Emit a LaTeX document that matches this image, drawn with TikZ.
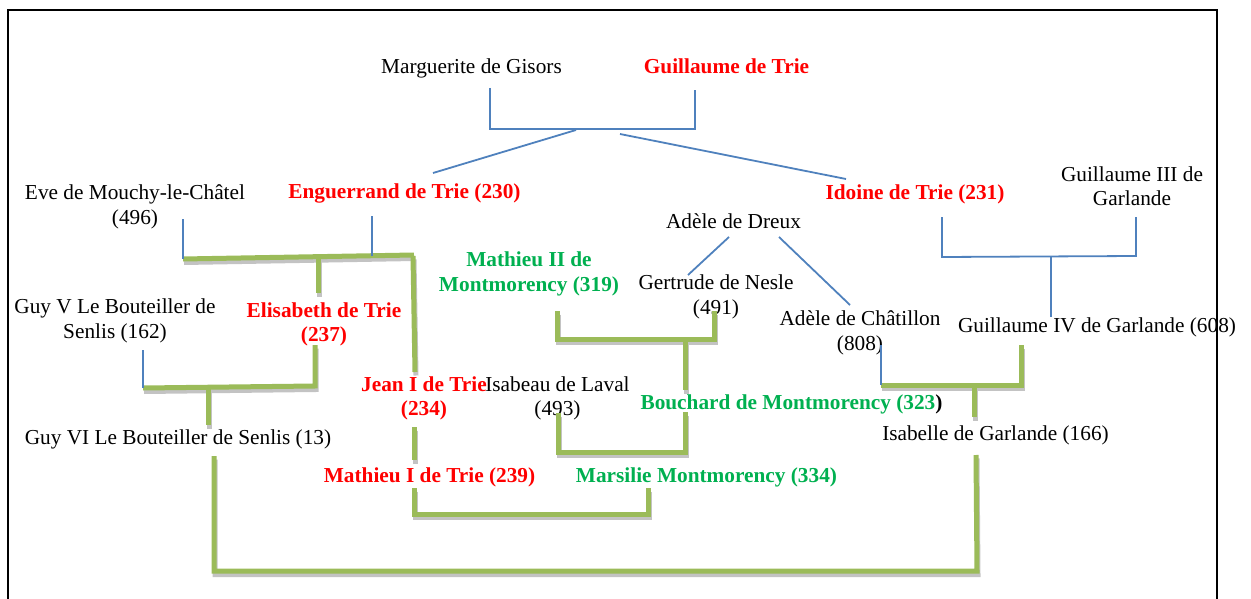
\documentclass[tikz,border=0pt]{standalone}
\usepackage{fontspec}
\setmainfont{Liberation Serif}
\definecolor{trred}{RGB}{255,0,0}
\definecolor{mogreen}{RGB}{0,176,80}
\definecolor{bline}{RGB}{79,129,189}
\definecolor{gline}{RGB}{155,187,89}
\definecolor{shgrey}{RGB}{195,195,195}
\tikzset{
  person/.style={font=\fontsize{21.3}{24.5}\selectfont, align=center, inner sep=0pt, text height=15pt, text depth=5pt},
  trie/.style={person, text=trred, font=\fontsize{21.3}{24.5}\selectfont\bfseries},
  mont/.style={person, text=mogreen, font=\fontsize{21.3}{24.5}\selectfont\bfseries},
  blueline/.style={draw=bline, line width=1.8pt},
  famline/.style={draw=gline, line width=5pt, line join=miter,
     preaction={draw=shgrey, line width=5pt, transform canvas={xshift=1pt, yshift=-3.5pt}}},
  frameline/.style={draw=black, line width=2.5pt}
}
\begin{document}
\begin{tikzpicture}[x=1pt, y=-1pt]
\useasboundingbox (0,0) rectangle (1251,599);
\draw[frameline] (8,605) -- (8,10) -- (1217,10) -- (1217,605);

% people
\node[person] (marg) at (471.5,69) {Marguerite de Gisors};
\node[trie] (gtrie) at (726.5,69) {Guillaume de Trie};
\node[person] (eve) at (135,219) {Eve de Mouchy-le-Châtel\\(496)};
\node[trie] (enguerrand) at (404.5,193) {Enguerrand de Trie (230)};
\node[trie] (idoine) at (915,195) {Idoine de Trie (231)};
\node[person] (g3) at (1132,200.5) {Guillaume III de\\Garlande};
\node[person] (adeledreux) at (733.5,224) {Adèle de Dreux};
\node[mont] (mathieu2) at (529,286) {Mathieu II de\\Montmorency (319)};
\node[person] (gertrude) at (716,309) {Gertrude de Nesle\\(491)};
\node[person] (chatillon) at (860,345) {Adèle de Châtillon\\(808)};
\node[person] (g4) at (1097,327) {Guillaume IV de Garlande (608)};
\node[person] (guy5) at (115,333) {Guy V Le Bouteiller de\\Senlis (162)};
\node[trie] (elisabeth) at (324,336.5) {Elisabeth de Trie\\(237)};
\node[trie] (jean) at (424,410.5) {Jean I de Trie\\(234)};
\node[person] (isabeau) at (557.5,410.5) {Isabeau de Laval\\(493)};
\node[mont] (bouchard) at (791.5,404) {Bouchard de Montmorency (323\textcolor{black}{)}};
\node[person] (guy6) at (178,439) {Guy VI Le Bouteiller de Senlis (13)};
\node[person] (isabelle) at (995.5,435) {Isabelle de Garlande (166)};
\node[trie] (mathieu1) at (429.5,477) {Mathieu I de Trie (239)};
\node[mont] (marsilie) at (706.5,477) {Marsilie Montmorency (334)};

% connector points
\coordinate (m1) at (490,88);  \coordinate (m2) at (490,129);
\coordinate (t1) at (695,90);  \coordinate (t2) at (695,129);
\coordinate (tA) at (576,130); \coordinate (eT) at (433,173);
\coordinate (tB) at (620,134); \coordinate (iT) at (846,179);
\coordinate (ev1) at (183,219); \coordinate (ev2) at (183,259);
\coordinate (en1) at (372,216); \coordinate (en2) at (372,256);
\coordinate (en3) at (414,255);
\coordinate (id1) at (942,217); \coordinate (id2) at (942,257);
\coordinate (g31) at (1136,217); \coordinate (g32) at (1136,256);
\coordinate (g4a) at (1051,257); \coordinate (g4b) at (1051,317);
\coordinate (ad1) at (729,237); \coordinate (ge1) at (688,275);
\coordinate (ad2) at (779,237); \coordinate (ch1) at (850,305);
\coordinate (ch2) at (881,345); \coordinate (ch3) at (881,385);
\coordinate (gv1) at (143,350); \coordinate (gv2) at (143,388);
\coordinate (el1) at (318,258); \coordinate (el2) at (318,293);
\coordinate (je1) at (413,256); \coordinate (je2) at (415,372);
\coordinate (el3) at (315,345); \coordinate (el4) at (315,386);
\coordinate (gy1) at (208,388); \coordinate (gy2) at (208,425);
\coordinate (ma1) at (414,427); \coordinate (ma2) at (414,460);
\coordinate (ma3) at (414,488); \coordinate (ma4) at (414,514);
\coordinate (mr1) at (648,488); \coordinate (mr2) at (648,514);
\coordinate (m21) at (557,311); \coordinate (m22) at (557,339);
\coordinate (gn1) at (714,311); \coordinate (gn2) at (714,339);
\coordinate (bo1) at (685,339); \coordinate (bo2) at (685,390);
\coordinate (is1) at (558,413); \coordinate (is2) at (558,452);
\coordinate (bo3) at (685,412); \coordinate (bo4) at (685,452);
\coordinate (g41) at (1021,345); \coordinate (g42) at (1021,385);
\coordinate (il1) at (974,385); \coordinate (il2) at (974,417);
\coordinate (gs1) at (214,456); \coordinate (gs2) at (214,571);
\coordinate (il3) at (976,455); \coordinate (il4) at (977,571);

% green family lines
\draw[famline] (ev2) -- (en3);
\draw[famline] (el1) -- (el2);
\draw[famline] (je1) -- (je2);
\draw[famline] (gv2) -- (el4) -- (el3);
\draw[famline] (gy1) -- (gy2);
\draw[famline] (ma1) -- (ma2);
\draw[famline] (ma3) -- (ma4) -- (mr2) -- (mr1);
\draw[famline] (m21) -- (m22) -- (gn2) -- (gn1);
\draw[famline] (bo1) -- (bo2);
\draw[famline] (is1) -- (is2) -- (bo4) -- (bo3);
\draw[famline] (ch3) -- (g42) -- (g41);
\draw[famline] (il1) -- (il2);
\draw[famline] (gs1) -- (gs2) -- (il4) -- (il3);

% blue lines
\draw[blueline] (m1) -- (m2) -- (t2) -- (t1);
\draw[blueline] (tA) -- (eT);
\draw[blueline] (tB) -- (iT);
\draw[blueline] (ev1) -- (ev2);
\draw[blueline] (en1) -- (en2);
\draw[blueline] (id1) -- (id2) -- (g32) -- (g31);
\draw[blueline] (g4a) -- (g4b);
\draw[blueline] (ad1) -- (ge1);
\draw[blueline] (ad2) -- (ch1);
\draw[blueline] (ch2) -- (ch3);
\draw[blueline] (gv1) -- (gv2);
\end{tikzpicture}
\end{document}
